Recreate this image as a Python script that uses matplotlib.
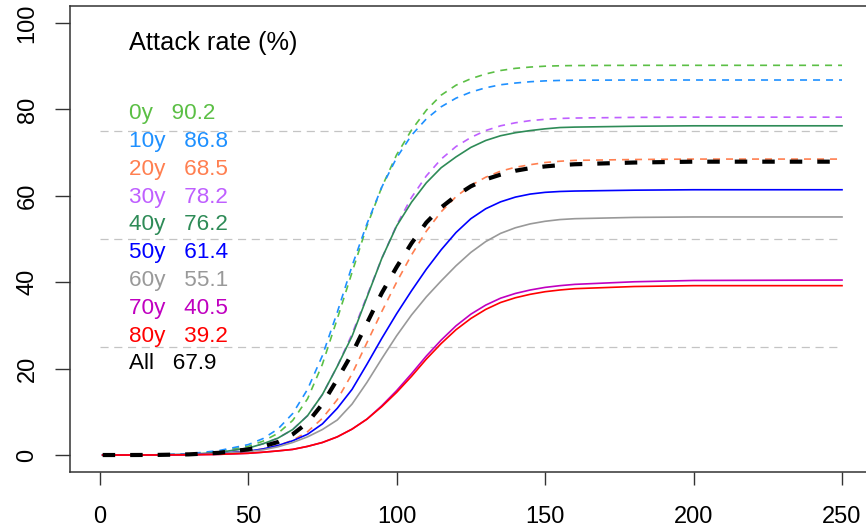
import numpy as np
import matplotlib
matplotlib.use("Agg")
import matplotlib.pyplot as plt

plt.rcParams["font.family"] = ["Liberation Sans", "DejaVu Sans"]

# day of epidemic
days = [1, 10, 20, 30, 40, 50, 55, 60, 65, 70, 75, 80, 85, 90, 95, 100, 105, 110,
        115, 120, 125, 130, 135, 140, 145, 150, 155, 160, 180, 200, 250]

# cumulative attack rate (%) by age group
ar_0y = [0, 0, 0.05, 0.2, 0.8, 2.0, 3.2, 5.0, 8.0, 13.0, 21.0, 31.5, 42.3, 53.0, 62.0, 69.5,
         75.2, 79.8, 83.3, 85.6, 87.1, 88.2, 89.0, 89.5, 89.8, 90.0, 90.1, 90.15, 90.2, 90.2, 90.2]
ar_10y = [0, 0, 0.06, 0.3, 1.0, 2.4, 3.8, 6.0, 9.6, 15.2, 23.0, 33.0, 43.8, 53.5, 62.0, 68.8,
          74.0, 77.8, 80.6, 82.6, 84.0, 85.0, 85.7, 86.1, 86.4, 86.6, 86.7, 86.75, 86.8, 86.8, 86.8]
ar_20y = [0, 0, 0.02, 0.1, 0.35, 0.9, 1.4, 2.2, 3.4, 5.4, 8.5, 12.8, 18.8, 26.0, 33.2, 40.0,
          46.3, 51.8, 56.3, 59.8, 62.4, 64.3, 65.7, 66.6, 67.2, 67.7, 68.0, 68.2, 68.4, 68.5, 68.5]
ar_30y = [0, 0, 0.03, 0.15, 0.6, 1.6, 2.6, 3.9, 5.9, 9.1, 14.0, 20.5, 28.0, 36.8, 45.5, 53.2,
          59.6, 64.6, 68.5, 71.4, 73.5, 75.1, 76.2, 76.9, 77.4, 77.7, 77.9, 78.0, 78.15, 78.2, 78.2]
ar_40y = [0, 0, 0.03, 0.15, 0.6, 1.6, 2.6, 3.9, 5.9, 9.1, 14.0, 20.5, 27.5, 36.5, 45.5, 53.0,
          58.5, 63.0, 66.5, 69.0, 71.2, 72.8, 73.9, 74.6, 75.1, 75.5, 75.8, 75.9, 76.1, 76.2, 76.2]
ar_50y = [0, 0, 0.02, 0.1, 0.35, 0.9, 1.4, 2.2, 3.3, 4.8, 7.2, 10.8, 15.2, 21.0, 27.0, 32.7,
          38.0, 43.0, 47.5, 51.5, 54.7, 57.0, 58.6, 59.7, 60.4, 60.8, 61.0, 61.1, 61.3, 61.4, 61.4]
ar_60y = [0, 0, 0.02, 0.08, 0.3, 0.8, 1.2, 1.9, 2.9, 4.2, 5.9, 8.1, 11.8, 16.8, 22.3, 27.6,
          32.4, 36.6, 40.3, 43.8, 46.9, 49.4, 51.3, 52.6, 53.5, 54.1, 54.5, 54.7, 55.0, 55.1, 55.1]
ar_70y = [0, 0, 0.01, 0.05, 0.15, 0.4, 0.65, 0.95, 1.3, 2.0, 2.9, 4.2, 6.0, 8.3, 11.4, 14.9,
          18.8, 22.9, 26.6, 29.9, 32.6, 34.7, 36.3, 37.4, 38.2, 38.8, 39.2, 39.5, 40.1, 40.4, 40.5]
ar_80y = [0, 0, 0.01, 0.05, 0.15, 0.4, 0.65, 0.95, 1.3, 2.0, 2.9, 4.2, 6.0, 8.3, 11.2, 14.5,
          18.2, 22.2, 25.8, 29.0, 31.6, 33.7, 35.3, 36.4, 37.2, 37.8, 38.2, 38.5, 39.0, 39.2, 39.2]
ar_all = [0, 0, 0.03, 0.15, 0.5, 1.3, 2.0, 3.0, 4.8, 7.5, 11.8, 17.5, 23.5, 30.5, 37.5, 43.5,
          49.0, 53.8, 57.3, 60.0, 62.2, 63.8, 64.9, 65.8, 66.4, 66.8, 67.1, 67.3, 67.7, 67.9, 67.9]

groups = ["0y", "10y", "20y", "30y", "40y", "50y", "60y", "70y", "80y", "All"]
final_ar = [90.2, 86.8, 68.5, 78.2, 76.2, 61.4, 55.1, 40.5, 39.2, 67.9]
curves = [ar_0y, ar_10y, ar_20y, ar_30y, ar_40y, ar_50y, ar_60y, ar_70y, ar_80y, ar_all]
colors = ["#5BBF45", "#1E90FF", "#FF7F50", "#BF5FFF", "#2E8B57",
          "#0000FF", "#999999", "#C000C0", "#FF0000", "#000000"]
dashed = [True, True, True, True, False, False, False, False, False, True]

ref_levels = [25, 50, 75]

fig = plt.figure(figsize=(8.66, 5.28), dpi=100)
ax = fig.add_axes([70 / 866, 1 - 472.3 / 528, 801.7 / 866, 466.6 / 528])

for lvl in ref_levels:
    ax.plot([0, 250], [lvl, lvl], color="#C4C4C4", lw=0.9, dashes=(6.5, 4.5))

for i, g in enumerate(groups):
    if g == "All":
        ax.plot(days, curves[i], color=colors[i], lw=3.0, dashes=(3, 3.6),
                dash_capstyle="butt")
    elif dashed[i]:
        ax.plot(days, curves[i], color=colors[i], lw=1.2, dashes=(4.2, 3.6))
    else:
        ax.plot(days, curves[i], color=colors[i], lw=1.2)

ax.set_xlim(-10, 260)
ax.set_ylim(-4, 104)
ax.set_xticks([0, 50, 100, 150, 200, 250])
ax.set_yticks([0, 20, 40, 60, 80, 100])
ax.tick_params(axis="both", direction="out", width=1, labelsize=17,
               color="#333333")
ax.tick_params(axis="x", length=9.6, pad=14.5)
ax.tick_params(axis="y", length=10.8, pad=11.8)
for lab in ax.get_yticklabels():
    lab.set_rotation(90)
    lab.set_va("center")
for sp in ax.spines.values():
    sp.set_linewidth(1.1)
    sp.set_color("#333333")

# attack rate labels
ax.text(10, 93.75, "Attack rate (%)", fontsize=18.3, ha="left", va="baseline")
for i, g in enumerate(groups):
    ax.text(10, 77.7 - i * 6.43, f"{g}   {final_ar[i]}", color=colors[i],
            fontsize=16.2, ha="left", va="baseline")

fig.savefig("out.png", dpi=100)
